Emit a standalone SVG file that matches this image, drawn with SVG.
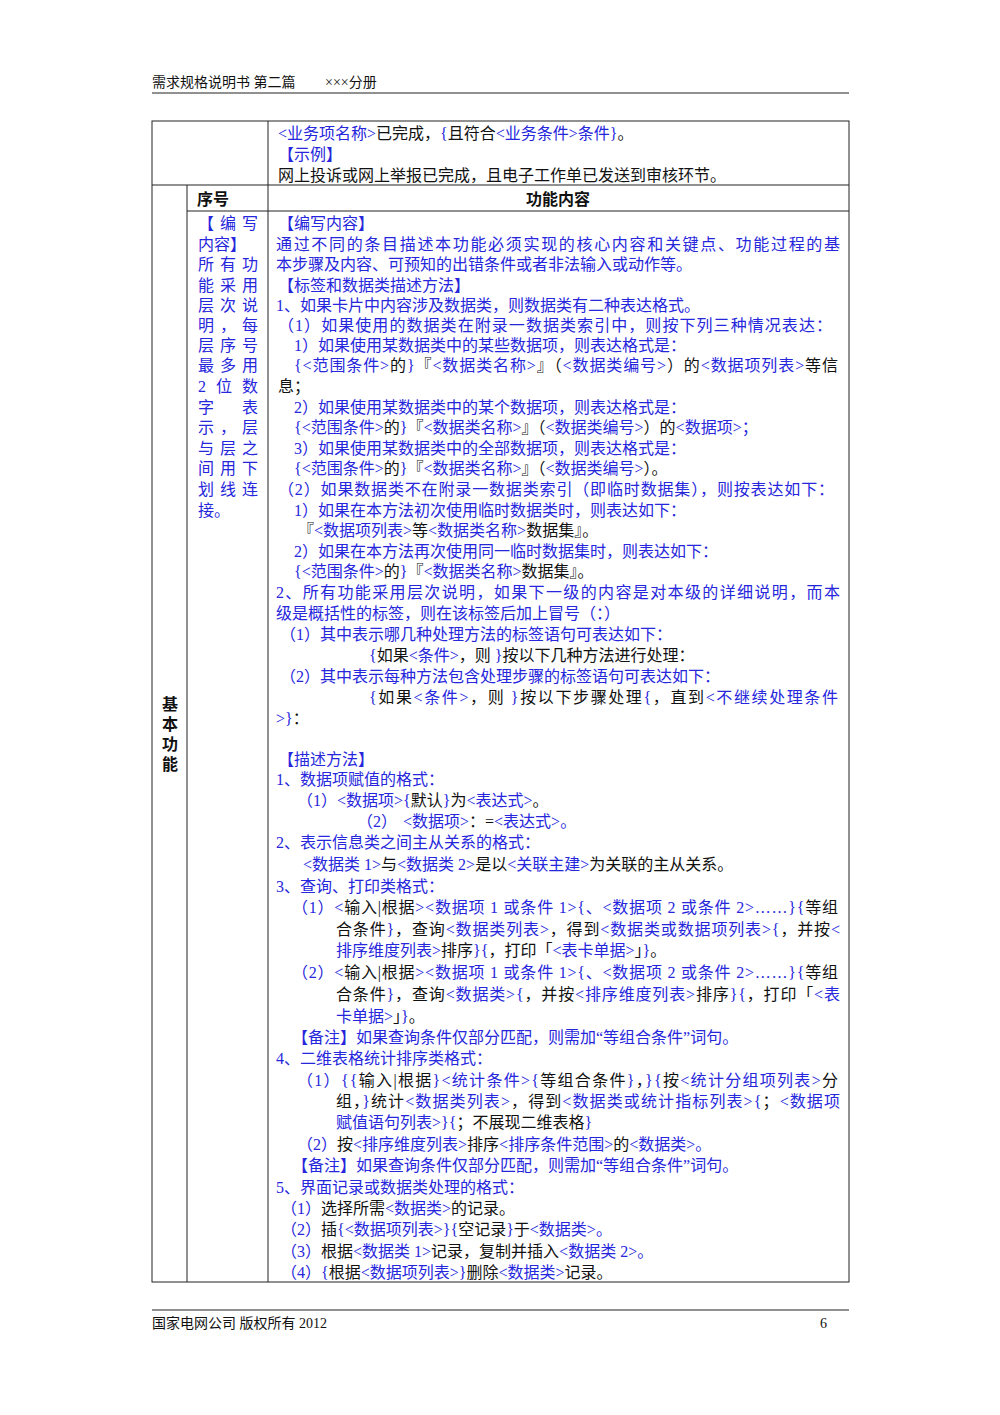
<svg xmlns="http://www.w3.org/2000/svg" width="1000" height="1415" viewBox="0 0 1000 1415">
<style>
text{font-family:"Liberation Serif","Noto Sans CJK SC",serif;font-size:16px;fill:#111}
.b{fill:#2626dc}
.h{font-size:14px}
.bd{font-weight:bold;font-family:"Noto Sans CJK SC",sans-serif}
line{stroke:#222;stroke-width:1}
</style>
<rect width="1000" height="1415" fill="#fff"/>
<text class="h" x="152" y="87">需求规格说明书 第二篇<tspan x="325">×××分册</tspan></text>
<line x1="152" y1="93" x2="849" y2="93"/>
<line x1="152" y1="1310" x2="849" y2="1310"/>
<text class="h" x="152" y="1328">国家电网公司 版权所有 2012</text>
<text class="h" x="820" y="1328">6</text>
<g id="table" fill="none">
<rect x="152" y="121" width="697" height="1161" fill="none" stroke="#222"/>
<line x1="152" y1="185" x2="849" y2="185"/>
<line x1="187" y1="211" x2="849" y2="211"/>
<line x1="268" y1="121" x2="268" y2="1282"/>
<line x1="187" y1="185" x2="187" y2="1282"/>
</g>
<g id="row1">
<text x="278" y="139"><tspan class="b">&lt;业务项名称&gt;</tspan>已完成，<tspan class="b">{</tspan>且符合<tspan class="b">&lt;业务条件&gt;条件}</tspan>。</text>
<text class="b" x="278" y="160">【示例】</text>
<text x="278" y="181">网上投诉或网上举报已完成，且电子工作单已发送到审核环节。</text>
</g>
<g id="header">
<text class="bd" x="197" y="205">序号</text>
<text class="bd" x="558" y="205" text-anchor="middle">功能内容</text>
</g>
<g id="side">
<text class="bd" x="170" y="696" writing-mode="tb" letter-spacing="4">基本功能</text>
</g>
<g id="seq" class="b">
<text class="b" x="198" y="229" textLength="60" lengthAdjust="spacing">【编写</text>
<text class="b" x="198" y="250">内容】</text>
<text class="b" x="198" y="270" textLength="60" lengthAdjust="spacing">所有功</text>
<text class="b" x="198" y="291" textLength="60" lengthAdjust="spacing">能采用</text>
<text class="b" x="198" y="311" textLength="60" lengthAdjust="spacing">层次说</text>
<text class="b" x="198" y="331" textLength="60" lengthAdjust="spacing">明，每</text>
<text class="b" x="198" y="351" textLength="60" lengthAdjust="spacing">层序号</text>
<text class="b" x="198" y="371" textLength="60" lengthAdjust="spacing">最多用</text>
<text class="b" x="198" y="392" textLength="60" lengthAdjust="spacing">2 位 数</text>
<text class="b" x="198" y="413" textLength="60" lengthAdjust="spacing">字  表</text>
<text class="b" x="198" y="433" textLength="60" lengthAdjust="spacing">示，层</text>
<text class="b" x="198" y="454" textLength="60" lengthAdjust="spacing">与层之</text>
<text class="b" x="198" y="474" textLength="60" lengthAdjust="spacing">间用下</text>
<text class="b" x="198" y="495" textLength="60" lengthAdjust="spacing">划线连</text>
<text class="b" x="198" y="516">接。</text>
</g>
<g id="content">
<text class="b" x="278" y="229">【编写内容】</text>
<text class="b" x="276" y="250" textLength="564" lengthAdjust="spacing">通过不同的条目描述本功能必须实现的核心内容和关键点、功能过程的基</text>
<text class="b" x="276" y="270">本步骤及内容、可预知的出错条件或者非法输入或动作等。</text>
<text class="b" x="278" y="291">【标签和数据类描述方法】</text>
<text class="b" x="276" y="311">1、如果卡片中内容涉及数据类，则数据类有二种表达格式。</text>
<text class="b" x="278" y="331" textLength="554" lengthAdjust="spacing">（1）如果使用的数据类在附录一数据类索引中，则按下列三种情况表达：</text>
<text class="b" x="294" y="351">1）如果使用某数据类中的某些数据项，则表达格式是：</text>
<text x="294" y="371" textLength="544" lengthAdjust="spacing"><tspan class="b">{&lt;范围条件&gt;</tspan>的<tspan class="b">}</tspan>『<tspan class="b">&lt;数据类名称&gt;</tspan>』（<tspan class="b">&lt;数据类编号&gt;</tspan>）的<tspan class="b">&lt;数据项列表&gt;</tspan>等信</text>
<text x="278" y="392">息；</text>
<text class="b" x="294" y="413">2）如果使用某数据类中的某个数据项，则表达格式是：</text>
<text x="294" y="433"><tspan class="b">{&lt;范围条件&gt;</tspan>的<tspan class="b">}</tspan>『<tspan class="b">&lt;数据类名称&gt;</tspan>』（<tspan class="b">&lt;数据类编号&gt;</tspan>）的<tspan class="b">&lt;数据项&gt;；</tspan></text>
<text class="b" x="294" y="454">3）如果使用某数据类中的全部数据项，则表达格式是：</text>
<text x="294" y="474"><tspan class="b">{&lt;范围条件&gt;</tspan>的<tspan class="b">}</tspan>『<tspan class="b">&lt;数据类名称&gt;</tspan>』（<tspan class="b">&lt;数据类编号&gt;</tspan>）。</text>
<text class="b" x="278" y="495" textLength="556" lengthAdjust="spacing">（2）如果数据类不在附录一数据类索引（即临时数据集），则按表达如下：</text>
<text class="b" x="294" y="516">1）如果在本方法初次使用临时数据类时，则表达如下：</text>
<text x="298" y="536">『<tspan class="b">&lt;数据项列表&gt;</tspan>等<tspan class="b">&lt;数据类名称&gt;</tspan>数据集』。</text>
<text class="b" x="294" y="557">2）如果在本方法再次使用同一临时数据集时，则表达如下：</text>
<text x="294" y="577"><tspan class="b">{&lt;范围条件&gt;</tspan>的<tspan class="b">}</tspan>『<tspan class="b">&lt;数据类名称&gt;</tspan>数据集』。</text>
<text class="b" x="276" y="598" textLength="564" lengthAdjust="spacing">2、所有功能采用层次说明，如果下一级的内容是对本级的详细说明，而本</text>
<text class="b" x="276" y="619">级是概括性的标签，则在该标签后加上冒号（：）</text>
<text class="b" x="280" y="640">（1）其中表示哪几种处理方法的标签语句可表达如下：</text>
<text x="369" y="661"><tspan class="b">{</tspan>如果<tspan class="b">&lt;条件&gt;</tspan>，则 <tspan class="b">}</tspan>按以下几种方法进行处理：</text>
<text class="b" x="280" y="682">（2）其中表示每种方法包含处理步骤的标签语句可表达如下：</text>
<text x="369" y="703" textLength="469" lengthAdjust="spacing"><tspan class="b">{</tspan>如果<tspan class="b">&lt;条件&gt;</tspan>，则 <tspan class="b">}</tspan>按以下步骤处理<tspan class="b">{</tspan>，直到<tspan class="b">&lt;不继续处理条件</tspan></text>
<text x="276" y="724"><tspan class="b">&gt;}</tspan>：</text>
<text class="b" x="278" y="765">【描述方法】</text>
<text class="b" x="276" y="785">1、数据项赋值的格式：</text>
<text x="297" y="806"><tspan class="b">（1）&lt;数据项&gt;{</tspan>默认<tspan class="b">}</tspan>为<tspan class="b">&lt;表达式&gt;</tspan>。</text>
<text x="357" y="827"><tspan class="b">（2）</tspan><tspan class="b" x="403">&lt;数据项&gt;</tspan>：=<tspan class="b">&lt;表达式&gt;。</tspan></text>
<text class="b" x="276" y="848">2、表示信息类之间主从关系的格式：</text>
<text x="303" y="870"><tspan class="b">&lt;数据类 1&gt;</tspan>与<tspan class="b">&lt;数据类 2&gt;</tspan>是以<tspan class="b">&lt;关联主建&gt;</tspan>为关联的主从关系。</text>
<text class="b" x="276" y="892">3、查询、打印类格式：</text>
<text x="292" y="913" textLength="546" lengthAdjust="spacing"><tspan class="b">（1）&lt;</tspan>输入|根据<tspan class="b">&gt;&lt;数据项 1 或条件 1&gt;{、&lt;数据项 2 或条件 2&gt;……}{</tspan>等组</text>
<text x="336" y="935" textLength="504" lengthAdjust="spacing">合条件<tspan class="b">}</tspan>，查询<tspan class="b">&lt;数据类列表&gt;</tspan>，得到<tspan class="b">&lt;数据类或数据项列表&gt;{</tspan>，并按<tspan class="b">&lt;</tspan></text>
<text x="336" y="956"><tspan class="b">排序维度列表&gt;</tspan>排序<tspan class="b">}{</tspan>，打印「<tspan class="b">&lt;表卡单据&gt;</tspan>」<tspan class="b">}</tspan>。</text>
<text x="292" y="978" textLength="546" lengthAdjust="spacing"><tspan class="b">（2）&lt;</tspan>输入|根据<tspan class="b">&gt;&lt;数据项 1 或条件 1&gt;{、&lt;数据项 2 或条件 2&gt;……}{</tspan>等组</text>
<text x="336" y="1000" textLength="504" lengthAdjust="spacing">合条件<tspan class="b">}</tspan>，查询<tspan class="b">&lt;数据类&gt;{</tspan>，并按<tspan class="b">&lt;排序维度列表&gt;</tspan>排序<tspan class="b">}{</tspan>，打印「<tspan class="b">&lt;表</tspan></text>
<text x="336" y="1022"><tspan class="b">卡单据&gt;</tspan>」<tspan class="b">}</tspan>。</text>
<text class="b" x="292" y="1043">【备注】如果查询条件仅部分匹配，则需加“等组合条件”词句。</text>
<text class="b" x="276" y="1064">4、二维表格统计排序类格式：</text>
<text x="297" y="1086" textLength="541" lengthAdjust="spacing"><tspan class="b">（1）{{</tspan>输入|根据<tspan class="b">}&lt;统计条件&gt;{</tspan>等组合条件<tspan class="b">}</tspan>，<tspan class="b">}{</tspan>按<tspan class="b">&lt;统计分组项列表&gt;</tspan>分</text>
<text x="336" y="1107" textLength="504" lengthAdjust="spacing">组，<tspan class="b">}</tspan>统计<tspan class="b">&lt;数据类列表&gt;</tspan>，得到<tspan class="b">&lt;数据类或统计指标列表&gt;{</tspan>；<tspan class="b">&lt;数据项</tspan></text>
<text x="336" y="1128"><tspan class="b">赋值语句列表&gt;}{</tspan>；不展现二维表格<tspan class="b">}</tspan></text>
<text x="297" y="1150"><tspan class="b">（2）</tspan>按<tspan class="b">&lt;排序维度列表&gt;</tspan>排序<tspan class="b">&lt;排序条件范围&gt;</tspan>的<tspan class="b">&lt;数据类&gt;。</tspan></text>
<text class="b" x="292" y="1171">【备注】如果查询条件仅部分匹配，则需加“等组合条件”词句。</text>
<text class="b" x="276" y="1193">5、界面记录或数据类处理的格式：</text>
<text x="281" y="1214"><tspan class="b">（1）</tspan>选择所需<tspan class="b">&lt;数据类&gt;</tspan>的记录。</text>
<text x="281" y="1235"><tspan class="b">（2）</tspan>插<tspan class="b">{&lt;数据项列表&gt;}{</tspan>空记录<tspan class="b">}</tspan>于<tspan class="b">&lt;数据类&gt;。</tspan></text>
<text x="281" y="1257"><tspan class="b">（3）</tspan>根据<tspan class="b">&lt;数据类 1&gt;</tspan>记录，复制并插入<tspan class="b">&lt;数据类 2&gt;。</tspan></text>
<text x="281" y="1278"><tspan class="b">（4）{</tspan>根据<tspan class="b">&lt;数据项列表&gt;}</tspan>删除<tspan class="b">&lt;数据类&gt;</tspan>记录。</text>
</g>
</svg>
